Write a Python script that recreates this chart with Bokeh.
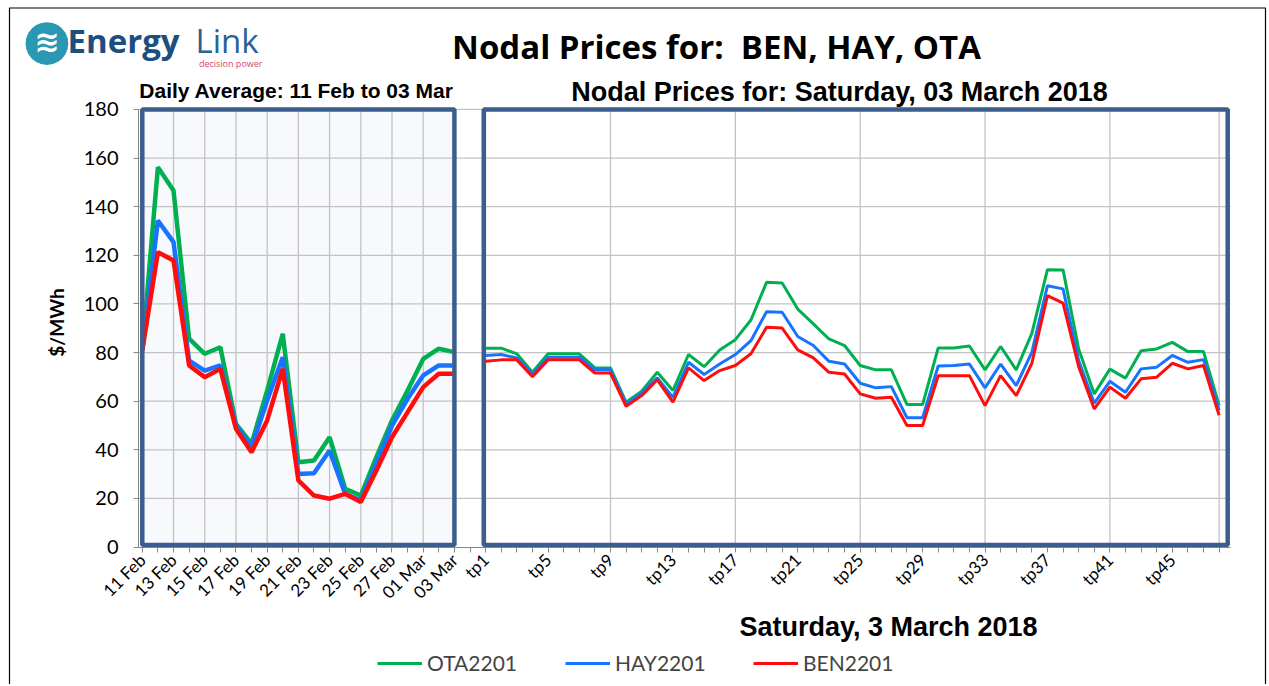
import math
from bokeh.plotting import figure
from bokeh.models import Range1d, FixedTicker, Label, Legend, LegendItem, LinearAxis
from bokeh.embed import file_html
from bokeh.resources import INLINE

# ---------------- data ----------------
days = ["11 Feb", "12 Feb", "13 Feb", "14 Feb", "15 Feb", "16 Feb", "17 Feb",
        "18 Feb", "19 Feb", "20 Feb", "21 Feb", "22 Feb", "23 Feb", "24 Feb",
        "25 Feb", "26 Feb", "27 Feb", "28 Feb", "01 Mar", "02 Mar", "03 Mar"]

ota_daily = [80.9, 156.2, 146.7, 85.7, 79.5, 82.2, 50.7, 42.5, 64.4, 87.7, 34.9,
             35.6, 45.2, 24.0, 21.2, 37.0, 52.1, 64.4, 77.4, 81.6, 80.2]
hay_daily = [80.9, 134.3, 125.4, 76.7, 72.6, 74.7, 50.0, 41.1, 60.3, 78.1, 30.1,
             30.4, 39.7, 21.9, 19.2, 34.3, 50.0, 61.0, 70.6, 74.7, 74.7]
ben_daily = [80.9, 121.3, 117.9, 74.7, 69.9, 73.3, 48.7, 39.0, 52.1, 73.3, 27.4,
             21.2, 19.9, 21.9, 18.5, 31.5, 45.2, 55.5, 65.8, 71.3, 71.3]

tps = ["tp%d" % i for i in range(1, 49)]

ota_tp = [81.8, 81.8, 79.5, 71.9, 79.5, 79.5, 79.5, 73.7, 73.7, 59.6, 64.1, 71.9,
          64.4, 79.2, 74.2, 81.1, 85.3, 93.4, 108.9, 108.6, 97.9, 91.8, 85.6, 82.9,
          74.7, 72.9, 72.9, 58.6, 58.6, 81.9, 81.9, 82.7, 72.9, 82.5, 72.9, 87.9,
          114.1, 114.0, 81.5, 63.0, 73.2, 69.5, 80.8, 81.5, 84.2, 80.4, 80.4, 58.2]
hay_tp = [78.8, 79.2, 77.8, 71.2, 78.1, 78.1, 78.1, 72.9, 72.9, 58.9, 63.3, 69.6,
          61.6, 76.0, 71.0, 75.3, 79.2, 84.9, 96.8, 96.6, 86.6, 82.9, 76.4, 75.3,
          67.4, 65.5, 66.0, 53.2, 53.2, 74.5, 74.7, 75.3, 65.5, 75.3, 66.4, 80.1,
          107.5, 106.2, 76.7, 59.2, 68.2, 63.7, 73.3, 74.0, 78.8, 76.0, 77.1, 56.2]
ben_tp = [76.4, 77.0, 77.0, 70.1, 77.0, 77.0, 77.0, 71.6, 71.6, 57.9, 62.3, 68.8,
          59.6, 73.7, 68.5, 72.6, 74.7, 79.5, 90.4, 90.1, 81.1, 77.8, 71.9, 71.2,
          63.0, 61.2, 61.6, 50.0, 50.0, 70.5, 70.5, 70.5, 58.2, 70.5, 62.3, 75.6,
          103.4, 100.3, 74.2, 56.8, 65.8, 61.2, 69.2, 69.9, 75.6, 73.3, 74.7, 54.2]

series_names = ["OTA2201", "HAY2201", "BEN2201"]
y_ticks = list(range(0, 181, 20))

# ---------------- layout helpers (page pixels -> data units) ----------------
W, H = 1268, 684
X0_PX, DX_PX = 141.8, 15.606     # page px of first category, px per category
Y0_PX, DY_PX = 546.6, 2.4315     # page px of value 0, px per unit


def X(px):
    return (px - X0_PX) / DX_PX


def Y(py):
    return (Y0_PX - py) / DY_PX


xd = list(range(len(days)))
xt = [len(days) + 1 + i for i in range(len(tps))]
n_cat = xt[-1] + 1

GREEN, BLUE, RED = "#00B050", "#1874FF", "#FF0D0D"
FRAME = "#3B5E8C"
GRID = "#C3C3C3"
AXIS = "#868686"

p = figure(width=W, height=H, output_backend="svg", toolbar_location=None,
           x_range=Range1d(X(0), X(W)), y_range=Range1d(Y(H), Y(0)),
           x_axis_location=None, y_axis_location=None, min_border=0)
p.outline_line_color = None
p.background_fill_color = "white"
p.border_fill_color = "white"
p.grid.visible = False

# outer frame of the picture
p.quad(left=X(9), right=X(1265), bottom=Y(H + 10), top=Y(7.5),
       fill_color=None, line_color="black", line_width=1.2)

# left panel fill
inset = 2.2 / DY_PX
p.quad(left=xd[0], right=xd[-1], bottom=y_ticks[0] + inset, top=y_ticks[-1],
       fill_color="#F7F9FC", line_color=None)

# grid lines (from the tick arrays)
hx0, hx1 = X(138), X(1230)
hy = y_ticks[1:]
p.segment(x0=[hx0] * len(hy), x1=[hx1] * len(hy), y0=hy, y1=hy,
          line_color=GRID, line_width=1.3)
vx = xd[::2] + xt[::8] + [xt[-1]]
p.segment(x0=vx, x1=vx, y0=[y_ticks[0]] * len(vx), y1=[y_ticks[-1]] * len(vx),
          line_color=GRID, line_width=1.3)

# lines
lw_d, lw_t = 4.5, 3
p.line(xd, ota_daily, line_color=GREEN, line_width=lw_d)
p.line(xd, hay_daily, line_color=BLUE, line_width=lw_d)
p.line(xd, ben_daily, line_color=RED, line_width=lw_d)
r_ota = p.line(xt, ota_tp, line_color=GREEN, line_width=lw_t)
r_hay = p.line(xt, hay_tp, line_color=BLUE, line_width=lw_t)
r_ben = p.line(xt, ben_tp, line_color=RED, line_width=lw_t)

# panel borders
p.quad(left=xd[0], right=xd[-1], bottom=y_ticks[0] + inset, top=y_ticks[-1],
       fill_color=None, line_color=FRAME, line_width=4.5)
p.quad(left=xt[0] - 0.12, right=xt[-1] + 0.55, bottom=y_ticks[0] + inset,
       top=y_ticks[-1], fill_color=None, line_color=FRAME, line_width=4.5)

# axes (drawn at fixed data locations)
ya = LinearAxis(fixed_location=X(138), bounds=(y_ticks[0], y_ticks[-1]),
                ticker=FixedTicker(ticks=y_ticks))
ya.major_tick_out = 5
ya.major_tick_in = 0
ya.minor_tick_line_color = None
ya.axis_line_color = AXIS
ya.major_tick_line_color = AXIS
ya.major_label_standoff = 15
ya.major_label_text_font = "Lato"
ya.major_label_text_font_size = "20px"
ya.major_label_text_color = "black"
p.add_layout(ya, "left")

overrides = {}
for i in range(n_cat):
    overrides[i] = ""
for i, d in zip(xd, days):
    if i % 2 == 0:
        overrides[i] = d
for k, (i, t) in enumerate(zip(xt, tps)):
    if k % 4 == 0:
        overrides[i] = t
xa = LinearAxis(fixed_location=Y(547.3), bounds=(X(138), X(1230)),
                ticker=FixedTicker(ticks=list(range(n_cat))))
xa.major_label_overrides = overrides
xa.major_label_orientation = math.pi / 4
xa.major_tick_out = 5
xa.major_tick_in = 0
xa.minor_tick_line_color = None
xa.axis_line_color = AXIS
xa.major_tick_line_color = AXIS
xa.major_label_standoff = 4
xa.major_label_text_font = "Lato"
xa.major_label_text_font_size = "17px"
xa.major_label_text_color = "black"
p.add_layout(xa, "below")

# legend
legend = Legend(items=[LegendItem(label=series_names[0], renderers=[r_ota]),
                       LegendItem(label=series_names[1], renderers=[r_hay]),
                       LegendItem(label=series_names[2], renderers=[r_ben])],
                orientation="horizontal", location=(377, H - 675),
                glyph_width=45, glyph_height=20, label_standoff=5,
                label_width=95, spacing=43, padding=0, margin=0,
                border_line_alpha=0, background_fill_alpha=0,
                label_text_font="Lato", label_text_font_size="21px")
p.add_layout(legend)


def add_label(text, px, py, font, size, color="black", style="normal",
              align="left", baseline="alphabetic", angle=0.0):
    # py is the wanted baseline (or centre) in page pixels; the renderer draws
    # text slightly lower than the anchor, so compensate by a fraction of size.
    fudge = 0.37 if baseline == "alphabetic" else 0.1
    if angle:
        fudge = 0.0
    p.add_layout(Label(x=X(px), y=Y(py - fudge * size), text=text,
                       text_font=font, text_font_size="%dpx" % size,
                       text_color=color, text_font_style=style,
                       text_align=align, text_baseline=baseline, angle=angle))


# titles
add_label("Nodal Prices for:\u00a0 BEN, HAY, OTA", 716, 58, "Open Sans", 33,
          style="bold", align="center")
add_label("Daily Average: 11 Feb to 03 Mar", 296, 98, "Liberation Sans", 21,
          style="bold", align="center")
add_label("Nodal Prices for: Saturday, 03 March 2018", 839, 101, "Liberation Sans",
          27, style="bold", align="center")
add_label("Saturday, 3 March 2018", 888, 636, "Liberation Sans", 27,
          style="bold", align="center")
add_label("$/MWh", 56, 322, "Lato", 19, style="bold", align="center",
          baseline="middle", angle=math.pi / 2)

# logo
add_label("\u25CF", 46.5, 44, "DejaVu Sans", 56, color="#2A97B3",
          align="center", baseline="middle")
add_label("\u224B", 46.5, 44, "DejaVu Sans", 30, color="white", style="bold",
          align="center", baseline="middle")
add_label("Energy", 67, 52, "Open Sans", 33, color="#1C4E7E", style="bold")
add_label("Link", 195, 52, "Open Sans", 33, color="#2C6096")
add_label("decision power", 262, 66, "Open Sans", 9, color="#D2456F",
          align="right")

open("out.html", "w").write(file_html(p, INLINE))
